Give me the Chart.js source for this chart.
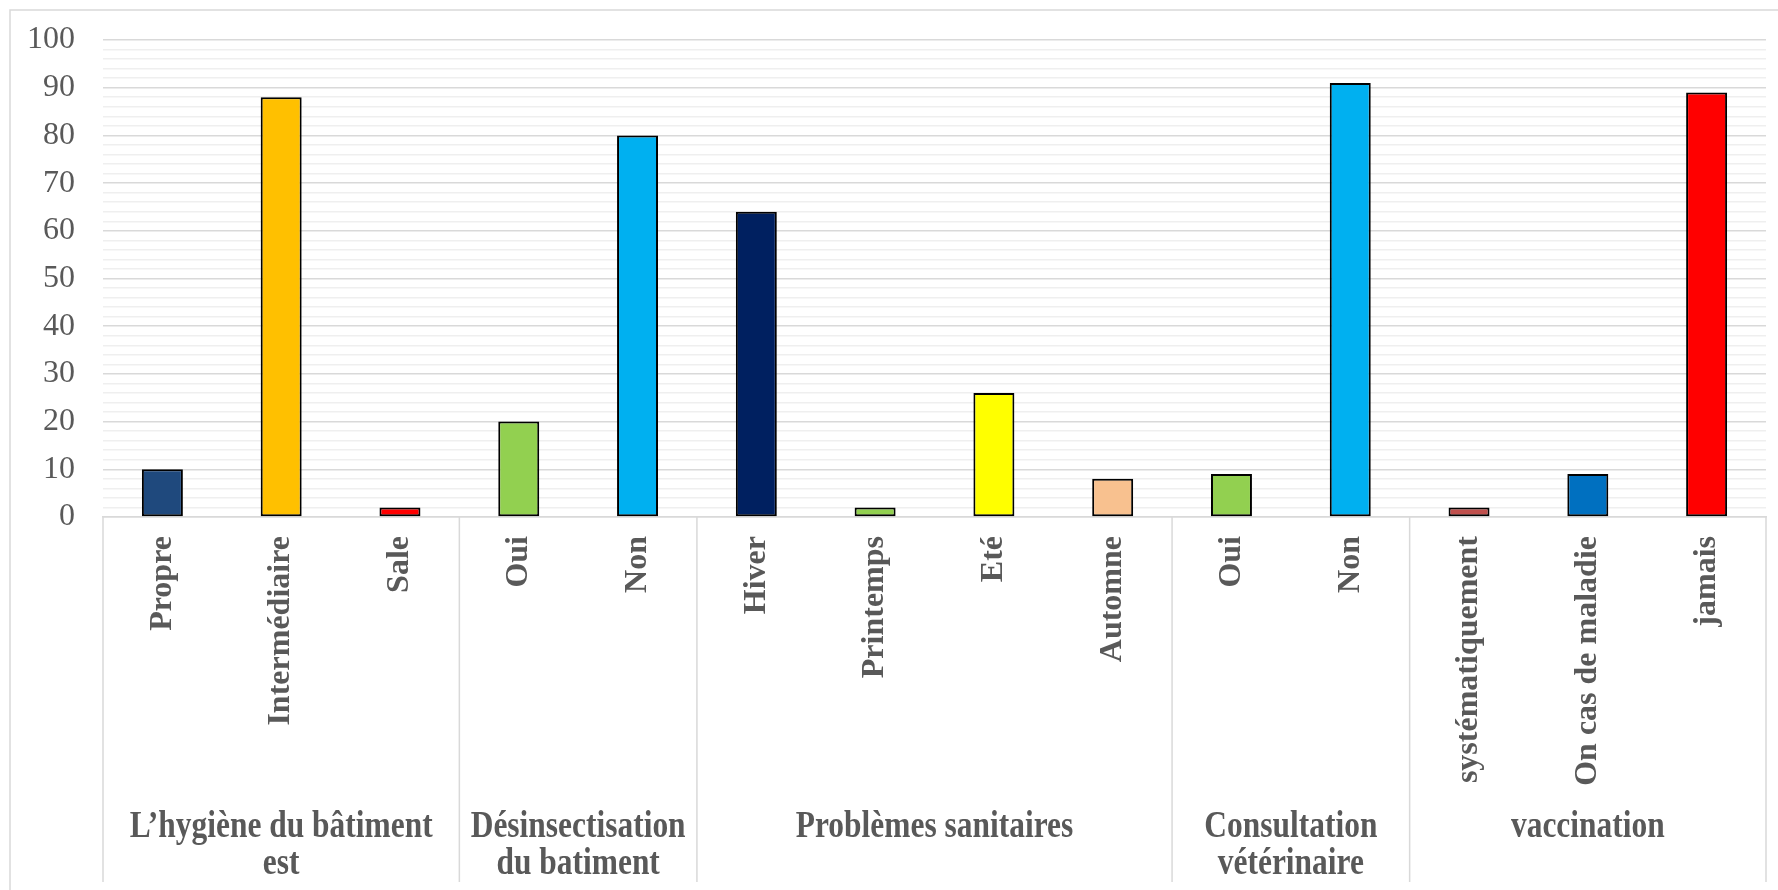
<!DOCTYPE html>
<html>
<head>
<meta charset="utf-8">
<script src="https://cdn.jsdelivr.net/npm/chart.js@4.4.1/dist/chart.umd.min.js"></script>
<style>
  html, body { margin: 0; padding: 0; background: #ffffff; }
  #wrap { width: 1778px; height: 890px; }
</style>
</head>
<body>
<div id="wrap"><canvas id="chart" width="1778" height="890"></canvas></div>
<script>
// Answer categories, in display order
const categories = [
  'Propre', 'Intermédiaire', 'Sale',
  'Oui', 'Non',
  'Hiver', 'Printemps', 'Eté', 'Automne',
  'Oui', 'Non',
  'systématiquement', 'On cas de maladie', 'jamais'
];

// Percentage of farms for each answer
const values = [10, 88, 2, 20, 80, 64, 2, 26, 8, 9, 91, 2, 9, 89];

// Fill colour of each bar
const barColors = [
  '#1F497D', '#FFC000', '#FF0000',
  '#92D050', '#00B0F0',
  '#002060', '#92D050', '#FFFF00', '#F8C18F',
  '#92D050', '#00B0F0',
  '#C0504D', '#0070C0', '#FF0000'
];

// Question groups: heading lines and number of answers in each
const groupNames = [
  ['L’hygiène du bâtiment', 'est'],
  ['Désinsectisation', 'du batiment'],
  ['Problèmes sanitaires'],
  ['Consultation', 'vétérinaire'],
  ['vaccination']
];
const groupSizes = [3, 2, 4, 2, 3];

// Y axis range and tick step
const yMin = 0;
const yMax = 100;
const yStep = 2;
const yLabelStep = 10;

const GREY_TEXT = '#595959';
const LINE_GREY = '#d9d9d9';
const MINOR_GREY = '#efefef';

// Draws the group separators, group headings and the outer frame
const groupAxisPlugin = {
  id: 'groupAxis',
  afterDraw(chart) {
    const ctx = chart.ctx;
    const x = chart.scales.x;
    const top = x.top;
    const bottom = x.bottom;

    ctx.save();
    ctx.strokeStyle = LINE_GREY;
    ctx.lineWidth = 1.5;

    // separators at group boundaries (including both ends)
    let idx = 0;
    const bounds = [x.getPixelForValue(-0.5)];
    groupSizes.forEach(n => {
      idx += n;
      bounds.push(x.getPixelForValue(idx - 0.5));
    });
    bounds.forEach(px => {
      ctx.beginPath();
      ctx.moveTo(px, top);
      ctx.lineTo(px, bottom);
      ctx.stroke();
    });

    // group headings
    ctx.fillStyle = GREY_TEXT;
    ctx.font = 'bold 37px "Liberation Serif"';
    ctx.textAlign = 'center';
    ctx.textBaseline = 'alphabetic';
    const squeeze = 0.85;
    groupNames.forEach((lines, g) => {
      const cx = (bounds[g] + bounds[g + 1]) / 2;
      lines.forEach((line, i) => {
        const y = bottom - 45 + i * 37;
        ctx.save();
        ctx.translate(cx, y);
        ctx.scale(squeeze, 1);
        ctx.fillText(line, 0, 0);
        ctx.restore();
      });
    });

    // outer frame
    ctx.beginPath();
    ctx.moveTo(10, chart.height);
    ctx.lineTo(10, 10);
    ctx.lineTo(chart.width, 10);
    ctx.stroke();
    ctx.restore();
  }
};

new Chart(document.getElementById('chart'), {
  type: 'bar',
  data: {
    labels: categories,
    datasets: [{
      data: values,
      backgroundColor: barColors,
      borderColor: '#000000',
      borderWidth: 2,
      borderSkipped: false,
      categoryPercentage: 1.0,
      barPercentage: 0.345
    }]
  },
  options: {
    responsive: false,
    animation: false,
    devicePixelRatio: 1,
    layout: { padding: { top: 40, right: 12, bottom: 8, left: 0 } },
    plugins: {
      legend: { display: false },
      tooltip: { enabled: false }
    },
    scales: {
      x: {
        grid: { display: false, drawTicks: false },
        border: { display: true, color: LINE_GREY, width: 1.5 },
        ticks: {
          autoSkip: false,
          minRotation: 90,
          maxRotation: 90,
          padding: 19,
          color: GREY_TEXT,
          font: { family: 'Liberation Serif', size: 32, weight: 'bold' }
        },
        afterFit(scale) { scale.height = 365; }
      },
      y: {
        min: yMin,
        max: yMax,
        grid: {
          drawTicks: false,
          lineWidth: 1.5,
          color: c => (c.tick && c.tick.value % yLabelStep === 0) ? LINE_GREY : MINOR_GREY
        },
        border: { display: false },
        ticks: {
          stepSize: yStep,
          autoSkip: false,
          padding: 28,
          color: GREY_TEXT,
          font: { family: 'Liberation Serif', size: 32 },
          callback: v => (v % yLabelStep === 0 ? String(v) : '')
        },
        afterFit(scale) {
          scale.width = 103;
          scale.paddingTop = 0;
          scale.paddingBottom = 0;
        }
      }
    }
  },
  plugins: [groupAxisPlugin]
});
</script>
</body>
</html>
